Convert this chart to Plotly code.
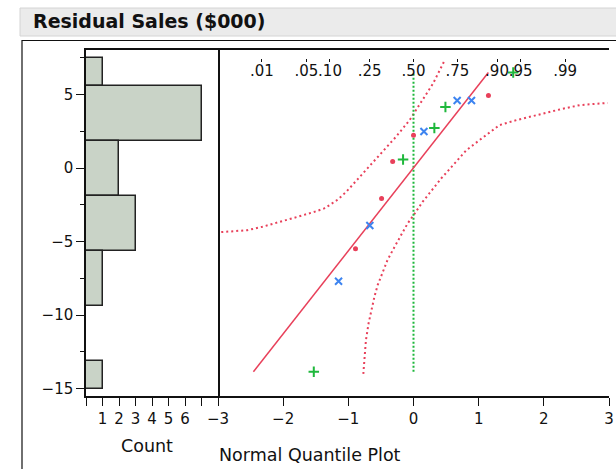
import plotly.graph_objects as go
from statistics import NormalDist
import numpy as np

# ---------------- data ----------------
# residuals split by the three marker groups, with their normal quantiles
red_q = [-0.89, -0.49, -0.32, 0.0, 1.15]
red_y = [-5.49, -2.06, 0.45, 2.24, 4.94]
blue_q = [-1.15, -0.67, 0.16, 0.67, 0.89]
blue_y = [-7.69, -3.90, 2.49, 4.60, 4.60]
green_q = [-1.53, -0.16, 0.32, 0.49, 1.53]
green_y = [-13.85, 0.59, 2.74, 4.17, 6.51]

# histogram bins (top edge, bottom edge, count)
hist_top = [7.5, 5.625, 1.875, -1.875, -5.625, -13.125]
hist_bottom = [5.625, 1.875, -1.875, -5.625, -9.375, -15.0]
hist_count = [1, 7, 2, 3, 1, 1]

# confidence band curves (normal quantile, residual)
upper_band_q = [-2.95, -2.55, -2.32, -2.03, -1.78, -1.52, -1.37, -1.29, -1.16,
                -1.03, -0.78, -0.52, -0.27, -0.06, 0.14, 0.30, 0.48]
upper_band_y = [-4.35, -4.22, -3.99, -3.65, -3.31, -2.97, -2.74, -2.52, -2.13,
                -1.60, -0.36, 0.88, 2.13, 3.27, 4.63, 5.76, 7.35]
lower_band_q = [-0.77, -0.75, -0.73, -0.69, -0.65, -0.60, -0.55, -0.47, -0.40,
                -0.29, -0.19, -0.09, 0.02, 0.14, 0.425, 0.60, 0.81, 1.01, 1.19,
                1.32, 1.58, 1.88, 2.24, 2.55, 2.86, 2.98]
lower_band_y = [-14.0, -12.83, -11.7, -10.57, -9.66, -8.75, -7.96, -7.05, -6.26,
                -5.35, -4.56, -3.76, -3.08, -2.29, -0.70, 0.20, 1.22, 1.90, 2.47,
                2.93, 3.27, 3.61, 3.99, 4.29, 4.40, 4.44]

# probability scale on top
prob_vals = [0.01, 0.05, 0.10, 0.25, 0.50, 0.75, 0.90, 0.95, 0.99]
prob_labels = [".01", ".05", ".10", ".25", ".50", ".75", ".90", ".95", ".99"]

count_ticks = [0, 1, 2, 3, 4, 5, 6, 7, 8]
count_labels = ["", "1", "2", "3", "4", "5", "6", "", ""]
quant_ticks = [-3, -2, -1, 0, 1, 2, 3]
y_ticks = [-15, -10, -5, 0, 5]
y_minor = [-12.5, -7.5, -2.5, 2.5, 7.5]

# ---------------- figure ----------------
W, H = 616, 469
FONT = "DejaVu Sans"
RED = "#e8405a"
BLUE = "#3d84f0"
GREEN = "#1fb83c"

def px_x(p):
    return p / W

def px_y(p):
    return 1 - p / H

all_y = np.array(red_y + blue_y + green_y)
mean, sd = all_y.mean(), all_y.std(ddof=1)
ymin, ymax = all_y.min(), all_y.max()
prob_pos = [NormalDist().inv_cdf(p) for p in prob_vals]

fig = go.Figure()

# histogram
centers = [(t + b) / 2 for t, b in zip(hist_top, hist_bottom)]
heights = [t - b for t, b in zip(hist_top, hist_bottom)]
fig.add_trace(go.Bar(
    x=hist_count, y=centers, width=heights, base=0, orientation="h",
    marker=dict(color="#c9d3c7", line=dict(color="#222222", width=1.5)),
    xaxis="x", yaxis="y", showlegend=False, hoverinfo="skip"))

# confidence bands
fig.add_trace(go.Scatter(x=upper_band_q, y=upper_band_y, mode="lines",
                         line=dict(color=RED, width=2, dash="2px,3px"),
                         xaxis="x2", yaxis="y", showlegend=False))
fig.add_trace(go.Scatter(x=lower_band_q, y=lower_band_y, mode="lines",
                         line=dict(color=RED, width=2, dash="2px,3px"),
                         xaxis="x2", yaxis="y", showlegend=False))
# vertical reference at zero quantile
fig.add_trace(go.Scatter(x=[0, 0], y=[ymin, ymax], mode="lines",
                         line=dict(color=GREEN, width=2, dash="2px,2px"),
                         xaxis="x2", yaxis="y", showlegend=False))
# fitted normal line
fig.add_trace(go.Scatter(x=[(ymin - mean) / sd, (ymax - mean) / sd],
                         y=[ymin, ymax], mode="lines",
                         line=dict(color=RED, width=1.5),
                         xaxis="x2", yaxis="y", showlegend=False))
# points
fig.add_trace(go.Scatter(x=red_q, y=red_y, mode="markers",
                         marker=dict(symbol="circle", size=5, color=RED),
                         xaxis="x2", yaxis="y", showlegend=False))
fig.add_trace(go.Scatter(x=blue_q, y=blue_y, mode="markers",
                         marker=dict(symbol="x-thin", size=7,
                                     line=dict(color=BLUE, width=2)),
                         xaxis="x2", yaxis="y", showlegend=False))
fig.add_trace(go.Scatter(x=green_q, y=green_y, mode="markers",
                         marker=dict(symbol="cross-thin", size=7.5,
                                     line=dict(color=GREEN, width=2)),
                         xaxis="x2", yaxis="y", showlegend=False))
# empty trace so the probability axis is drawn
fig.add_trace(go.Scatter(x=[None], y=[None], mode="markers",
                         xaxis="x3", yaxis="y", showlegend=False,
                         hoverinfo="skip"))

tickfont = dict(family=FONT, size=15, color="#111")
ydom = [px_y(396), px_y(50)]
yrange = [-15.5, 8.04]

fig.update_layout(
    width=W, height=H, margin=dict(l=0, r=0, t=0, b=0, pad=0, autoexpand=False),
    paper_bgcolor="white", plot_bgcolor="white",
    bargap=0, showlegend=False,
    font=dict(family=FONT, color="#111"),
    xaxis=dict(domain=[px_x(86), px_x(218)], range=[0, 8], anchor="y",
               automargin=False, tickangle=0,
               tickvals=count_ticks, ticktext=count_labels,
               ticks="outside", ticklen=8, tickwidth=1.2, tickcolor="#111",
               showline=True, linecolor="#111", linewidth=1.5, mirror=True,
               showgrid=False, zeroline=False, tickfont=tickfont),
    xaxis2=dict(domain=[px_x(218), px_x(609)], range=[-3, 3], anchor="y",
                automargin=False, tickangle=0,
                tickvals=quant_ticks,
                ticks="outside", ticklen=8, tickwidth=1.2, tickcolor="#111",
                showline=True, linecolor="#111", linewidth=1.5, mirror=True,
                showgrid=False, zeroline=False, tickfont=tickfont),
    xaxis3=dict(overlaying="x2", anchor="free", position=px_y(58),
                side="bottom", range=[-3, 3], automargin=False, tickangle=0,
                tickmode="array", tickvals=prob_pos, ticktext=prob_labels,
                ticks="outside", ticklen=3, tickwidth=1.2, tickcolor="#111",
                showticklabels=True, ticklabelstandoff=-4,
                showline=False, showgrid=False, zeroline=False,
                tickfont=tickfont),
    yaxis=dict(domain=ydom, range=yrange, anchor="x", automargin=False,
               tickvals=y_ticks, ticks="outside", ticklen=8, tickwidth=1.2,
               tickcolor="#111",
               minor=dict(tickvals=y_minor, ticks="outside", ticklen=4,
                          tickwidth=1.2, tickcolor="#111"),
               showline=True, linecolor="#111", linewidth=1.5, mirror=True,
               showgrid=False, zeroline=False, tickfont=tickfont),
    yaxis2=dict(domain=ydom, overlaying="y", anchor="x2", range=yrange,
                automargin=False,
                showticklabels=False, ticks="",
                showline=True, linecolor="#111", linewidth=1.5, mirror=True,
                showgrid=False, zeroline=False),
    shapes=[
        dict(type="rect", xref="paper", yref="paper",
             x0=px_x(20), x1=1.05, y0=px_y(36), y1=px_y(8),
             fillcolor="#ebebeb", line=dict(color="#d4d4d4", width=1),
             layer="below"),
        dict(type="rect", xref="paper", yref="paper",
             x0=px_x(22), x1=1.05, y0=-0.05, y1=px_y(40.5),
             fillcolor="rgba(0,0,0,0)", line=dict(color="#111", width=1.2)),
    ],
    annotations=[
        dict(text="Residual Sales ($000)", xref="paper", yref="paper",
             x=px_x(31), y=px_y(21), xanchor="left", yanchor="middle",
             showarrow=False,
             font=dict(family=FONT, size=19, color="#111", weight=700)),
        dict(text="Count", xref="paper", yref="paper",
             x=px_x(147), y=px_y(446), xanchor="center", yanchor="middle",
             showarrow=False, font=dict(family=FONT, size=17.5, color="#111")),
        dict(text="Normal Quantile Plot", xref="paper", yref="paper",
             x=px_x(217), y=px_y(455), xanchor="left", yanchor="middle",
             showarrow=False, font=dict(family=FONT, size=17.5, color="#111")),
    ],
)

fig.write_html("out.html",
               config={"displayModeBar": False},
               post_script="document.body.style.margin='0';"
                           "document.body.style.padding='0';")
